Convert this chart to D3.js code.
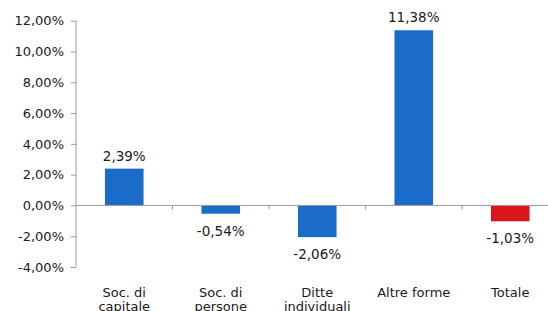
<!DOCTYPE html>
<html>
<head>
<meta charset="utf-8">
<script src="https://cdn.jsdelivr.net/npm/d3@7"></script>
<style>
  body { margin: 0; background: #fff; }
  svg { display: block; }
  text { font-family: 'DejaVu Sans', Verdana, sans-serif; }
</style>
</head>
<body>
<div id="chart"></div>
<script>
(function () {
    // data
    const categories = [["Soc. di", "capitale"], ["Soc. di", "persone"], ["Ditte", "individuali"], ["Altre forme"], ["Totale"]];
    const values = [2.39, -0.54, -2.06, 11.38, -1.03];
    const barColors = ["#1a6cc8", "#1a6cc8", "#1a6cc8", "#1a6cc8", "#d8161c"];
    const yTicks = [-4, -2, 0, 2, 4, 6, 8, 10, 12];

    const width = 548, height = 311;
    const fmt = v => d3.format(".2f")(v).replace(".", ",").replace("\u2212", "-") + "%";

    const svg = d3.select("#chart").append("svg")
        .attr("width", width).attr("height", height);

    const x = d3.scaleBand()
        .domain(d3.range(values.length))
        .range([76, 558.5])
        .paddingInner(0.6)
        .paddingOuter(0.3);

    const y = d3.scaleLinear().domain([-4, 12]).range([267, 20.7]);

    // y axis
    const yAxis = svg.append("g")
        .attr("transform", "translate(76,0)")
        .call(d3.axisLeft(y).tickValues(yTicks).tickSize(5).tickPadding(7).tickFormat(fmt));
    yAxis.selectAll("line, path").attr("stroke", "#9a9a9a");
    yAxis.select(".domain").attr("d", "M0," + y(-4) + "V" + y(12));
    yAxis.selectAll("text").attr("fill", "#1a1a1a").style("font-size", "13px");

    // bars
    svg.append("g").selectAll("rect")
        .data(values)
        .join("rect")
        .attr("x", (d, i) => x(i))
        .attr("width", x.bandwidth())
        .attr("y", d => y(Math.max(0, d)))
        .attr("height", d => Math.abs(y(d) - y(0)))
        .attr("fill", (d, i) => barColors[i]);

    // zero line with category ticks
    const step = x.step();
    const xAxis = svg.append("g").attr("transform", "translate(0," + y(0) + ")");
    xAxis.append("line")
        .attr("x1", 76).attr("x2", width)
        .attr("stroke", "#9a9a9a");
    xAxis.selectAll("line.tk")
        .data(d3.range(1, values.length))
        .join("line")
        .attr("class", "tk")
        .attr("x1", i => 76 + i * step).attr("x2", i => 76 + i * step)
        .attr("y1", 0).attr("y2", 4)
        .attr("stroke", "#9a9a9a");

    // value labels
    svg.append("g").selectAll("text")
        .data(values)
        .join("text")
        .attr("x", (d, i) => x(i) + x.bandwidth() / 2)
        .attr("y", d => d >= 0 ? y(d) - 8 : y(d) + 22)
        .attr("text-anchor", "middle")
        .style("font-size", "13.5px")
        .attr("fill", "#1a1a1a")
        .text(fmt);

    // category labels
    svg.append("g").selectAll("text")
        .data(categories)
        .join("text")
        .attr("x", (d, i) => x(i) + x.bandwidth() / 2)
        .attr("y", 297)
        .attr("text-anchor", "middle")
        .style("font-size", "13px")
        .attr("fill", "#1a1a1a")
        .selectAll("tspan")
        .data(d => d)
        .join("tspan")
        .attr("x", function () { return d3.select(this.parentNode).attr("x"); })
        .attr("dy", (d, j) => j === 0 ? 0 : 14)
        .text(d => d);
})();
</script>
</body>
</html>
